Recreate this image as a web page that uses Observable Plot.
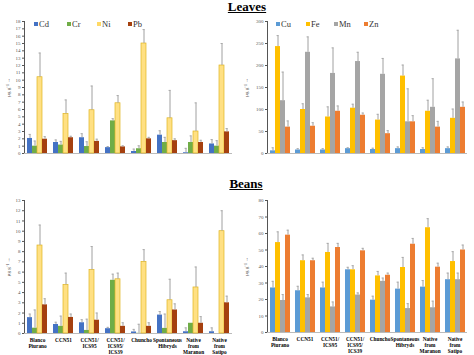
<!DOCTYPE html>
<html><head><meta charset="utf-8">
<script src="https://cdn.jsdelivr.net/npm/d3@7"></script>
<script src="https://cdn.jsdelivr.net/npm/@observablehq/plot@0.6"></script>
<style>
body{margin:0;background:#fff;font-family:"Liberation Serif",serif;}
#wrap{position:relative;width:474px;height:355px;overflow:hidden;}
.panel{position:absolute;}
.title{position:absolute;font-weight:bold;font-size:13px;text-decoration:underline;transform:translateX(-50%);white-space:nowrap;}
.legend{position:absolute;font-size:8.5px;color:#333;white-space:nowrap;}
.legend span{display:inline-block;width:4px;height:4px;margin-right:1px;vertical-align:1px;}
</style></head>
<body><div id="wrap"></div>
<script>
const groups = ["Blanco Piurano","CCN51","CCN51/ ICS95","CCN51/ ICS95/ ICS39","Chuncho","Spontaneous Hibryds","Native from Maranon","Native from Satipo"];
const groupLabels = ["Blanco\nPiurano","CCN51","CCN51/\nICS95","CCN51/\nICS95/\nICS39","Chuncho","Spontaneous\nHibryds","Native\nfrom\nMaranon","Native\nfrom\nSatipo"];
const traceMetals = ["Cd","Cr","Ni","Pb"];
const majorMetals = ["Cu","Fe","Mn","Zn"];
const traceColors = ["#4472C4","#70AD47","#FFE083","#A5400F"];
const majorColors = ["#5B9BD5","#FFC000","#A5A5A5","#ED7D31"];

// Leaves, trace metals (value, top of error bar)
const leavesCd = [2.05,1.5,2.15,0.8,0.27,2.5,0.1,1.3];
const leavesCdTop = [2.6,1.85,2.7,0.95,0.6,3.1,0.7,1.9];
const leavesCr = [1.0,1.15,0.95,4.45,0.65,1.5,1.5,1.0];
const leavesCrTop = [1.7,1.65,1.6,4.75,1.05,2.2,2.4,1.75];
const leavesNi = [10.4,5.4,5.9,6.85,15.0,4.8,3.0,12.0];
const leavesNiTop = [13.7,7.3,9.2,7.9,16.9,8.6,6.9,15.0];
const leavesPb = [1.95,2.15,1.65,0.9,2.0,1.75,1.5,2.95];
const leavesPbTop = [2.3,2.35,1.95,1.05,2.2,2.0,1.8,3.4];

// Leaves, major metals
const leavesCu = [6,8,8,11,9,11,9,11];
const leavesCuTop = [13,11,11,13,12,15,13,15];
const leavesFe = [243,100,83,103,76,176,96,80];
const leavesFeTop = [268,113,106,112,89,201,121,101];
const leavesMn = [120,230,182,209,180,72,105,215];
const leavesMnTop = [185,265,240,230,216,147,170,280];
const leavesZn = [60,62,96,87,45,72,60,105];
const leavesZnTop = [74,70,108,92,52,86,73,117];

// Beans, trace metals
const beansCd = [1.55,0.88,1.05,0.47,0.15,1.8,0.17,0.17];
const beansCdTop = [1.9,1.1,1.35,0.6,0.4,2.15,0.55,0.55];
const beansCr = [0.52,0.7,0.3,5.2,0.02,0.5,1.0,0];
const beansCrTop = [2.3,1.7,1.4,5.8,0.9,1.9,1.0,0];
const beansNi = [8.6,4.75,6.2,5.3,7.0,3.25,4.5,10.0];
const beansNiTop = [10.6,5.9,8.5,5.9,8.2,5.3,6.5,12.0];
const beansPb = [2.8,1.57,1.3,0.7,0.7,2.3,1.0,3.0];
const beansPbTop = [3.4,1.9,2.0,1.05,1.05,2.9,1.65,3.65];

// Beans, major metals
const beansCu = [27,25.3,27,38,19.6,26.3,27.5,32];
const beansCuTop = [31,28,30.5,39.5,22,30.5,31.5,36];
const beansFe = [54.5,43.5,48.5,38,34.3,39.4,63.5,43];
const beansFeTop = [61,47,54,40.5,37,45.5,69,49];
const beansMn = [19.4,21,15.5,22.7,31,14.5,15,32];
const beansMnTop = [23,23,18.5,24,33,17.5,19,36];
const beansZn = [59,43.5,51.5,49.5,34.7,53.5,39.6,50];
const beansZnTop = [62,45,54,51,36,57,42,53];

function rows(metals, vals, tops) {
  const out = [];
  groups.forEach((g, i) => metals.forEach((m, j) => out.push({group: g, metal: m, value: vals[j][i], top: tops[j][i]})));
  return out;
}

const panels = [
  {left: 0, top: 0, h: 175, mt: 21, mb: 22, ml: 21, mr: 2, metals: traceMetals, colors: traceColors,
   data: rows(traceMetals, [leavesCd, leavesCr, leavesNi, leavesPb], [leavesCdTop, leavesCrTop, leavesNiTop, leavesPbTop]),
   ymax: 18, ticks: d3.range(0, 19, 1), labels: false},
  {left: 237, top: 0, h: 175, mt: 21, mb: 22, ml: 26, mr: 4, metals: majorMetals, colors: majorColors,
   data: rows(majorMetals, [leavesCu, leavesFe, leavesMn, leavesZn], [leavesCuTop, leavesFeTop, leavesMnTop, leavesZnTop]),
   ymax: 300, ticks: d3.range(0, 301, 50), labels: false},
  {left: 0, top: 175, h: 180, mt: 25, mb: 22, ml: 21, mr: 2, metals: traceMetals, colors: traceColors,
   data: rows(traceMetals, [beansCd, beansCr, beansNi, beansPb], [beansCdTop, beansCrTop, beansNiTop, beansPbTop]),
   ymax: 13, ticks: d3.range(0, 14, 1), labels: true},
  {left: 237, top: 175, h: 180, mt: 25, mb: 23, ml: 26, mr: 4, metals: majorMetals, colors: majorColors,
   data: rows(majorMetals, [beansCu, beansFe, beansMn, beansZn], [beansCuTop, beansFeTop, beansMnTop, beansZnTop]),
   ymax: 80, ticks: d3.range(0, 81, 10), labels: true}
];

const wrap = document.getElementById("wrap");
for (const p of panels) {
  const marks = [
    Plot.ruleY([0], {stroke: "#bbb"}),
    Plot.barY(p.data, {fx: "group", x: "metal", y: "value", fill: "metal",
      stroke: d => d.metal === "Ni" ? "#E0B520" : "none", strokeWidth: 0.7}),
    Plot.ruleX(p.data.filter(d => d.top > d.value), {fx: "group", x: "metal", y1: "value", y2: "top", stroke: "#a0a0a0", strokeWidth: 1}),
    Plot.tickY(p.data.filter(d => d.top > d.value), {fx: "group", x: "metal", y: "top", stroke: "#a0a0a0", strokeWidth: 0.8, insetLeft: 1.5, insetRight: 1.5})
  ];
  if (p.labels) {
    marks.push(Plot.text(groups, {fx: d => d, frameAnchor: "bottom", dy: 4, lineAnchor: "top",
      text: (d, i) => groupLabels[i], fontWeight: "bold", fontSize: 5.3, lineHeight: 1.13, fill: "#000"}));
  }
  const svg = Plot.plot({
    width: 237, height: p.h,
    marginLeft: p.ml, marginRight: p.mr, marginTop: p.mt, marginBottom: p.mb,
    style: {fontFamily: "Liberation Serif, serif", fontSize: "5px", color: "#555", background: "white"},
    fx: {domain: groups, padding: 0, axis: null, label: null},
    x: {domain: p.metals, axis: null, paddingInner: 0.1, paddingOuter: 0.35},
    y: {domain: [0, p.ymax], ticks: p.ticks, tickSize: 2, tickPadding: 2, line: true,
        label: "µg g⁻¹", labelAnchor: "center", labelOffset: p.ml - 3, grid: false},
    color: {domain: p.metals, range: p.colors},
    marks
  });
  svg.classList.add("panel");
  svg.style.left = p.left + "px";
  svg.style.top = p.top + "px";
  wrap.appendChild(svg);
}

function addTitle(text, x, y) {
  const d = document.createElement("div");
  d.className = "title"; d.textContent = text;
  d.style.left = x + "px"; d.style.top = y + "px";
  wrap.appendChild(d);
}
addTitle("Leaves", 247, -1);
addTitle("Beans", 246, 176);

function addLegend(metals, colors, xs, y) {
  metals.forEach((m, i) => {
    const d = document.createElement("div");
    d.className = "legend";
    d.style.left = xs[i] + "px"; d.style.top = y + "px";
    const s = document.createElement("span");
    s.style.background = colors[i];
    d.appendChild(s);
    d.appendChild(document.createTextNode(m));
    wrap.appendChild(d);
  });
}
addLegend(traceMetals, ["#4472C4","#70AD47","#FFD966","#A5400F"], [34, 67, 97, 128], 19);
addLegend(majorMetals, majorColors, [276, 306, 334, 364], 19);
</script></body></html>
